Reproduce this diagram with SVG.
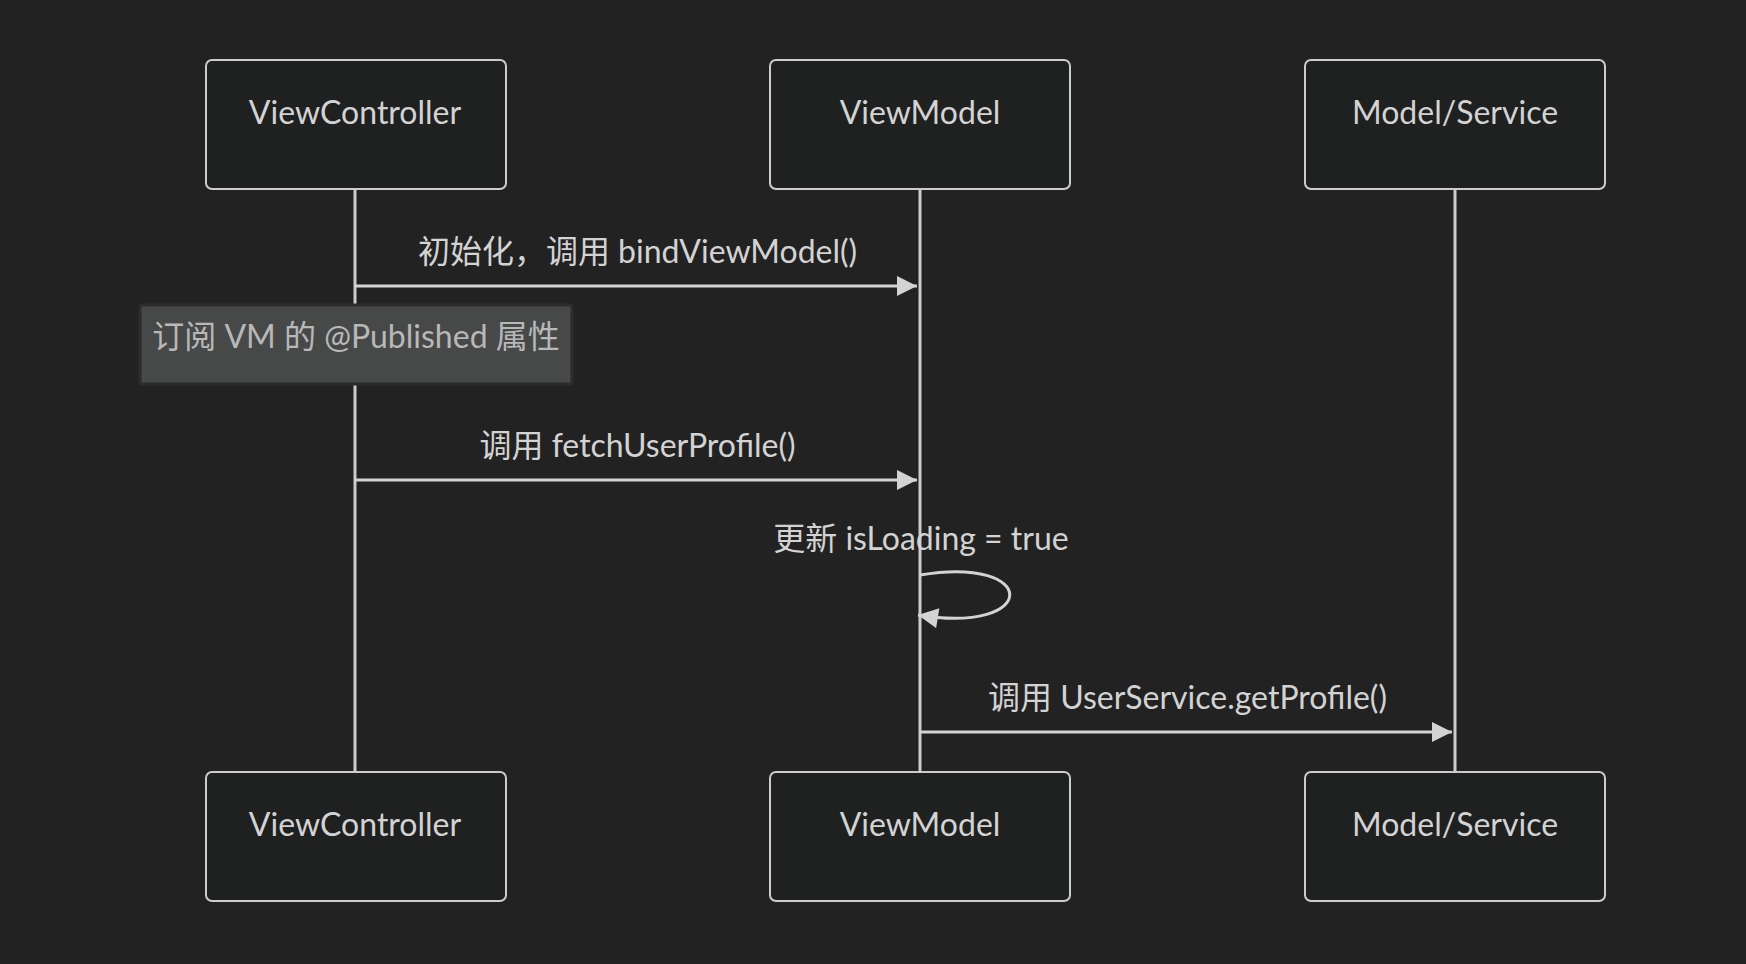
<svg xmlns="http://www.w3.org/2000/svg" width="1746" height="964" viewBox="0 0 1746 964">
<style>
.actor rect{fill:#1f2020;stroke:#cccccc;stroke-width:2}
.actor text{fill:#d3d3d3;font-family:Lato,"Noto Sans CJK SC",sans-serif;font-size:32px;text-anchor:middle}
.life{stroke:#cccccc;stroke-width:3}
.msg{stroke:#d3d3d3;stroke-width:3;fill:none}
.mtext{fill:#d3d3d3;font-family:Lato,"Noto Sans CJK SC",sans-serif;font-size:32px;text-anchor:middle}
.note rect{fill:#474949;stroke:#2c2c2c;stroke-width:3}
.note text{fill:#b8b8b8;font-family:Lato,"Noto Sans CJK SC",sans-serif;font-size:32px;text-anchor:middle}
</style>
<defs>
<marker id="arrow" viewBox="0 0 10 10" refX="10" refY="5" markerUnits="userSpaceOnUse" markerWidth="21" markerHeight="20" orient="auto">
<path d="M0,0 L10,5 L0,10 z" fill="#d3d3d3"/>
</marker>
</defs>
<rect x="0" y="0" width="1746" height="964" fill="#222222"/>
<g id="lifelines">
<line class="life" x1="355" y1="189" x2="355" y2="772"/>
<line class="life" x1="920" y1="189" x2="920" y2="772"/>
<line class="life" x1="1455" y1="189" x2="1455" y2="772"/>
</g>
<g id="actor-viewcontroller-top" class="actor"><rect x="206" y="60" width="300" height="129" rx="6"/><text x="355" y="124">ViewController</text></g>
<g id="actor-viewmodel-top" class="actor"><rect x="770" y="60" width="300" height="129" rx="6"/><text x="920" y="124">ViewModel</text></g>
<g id="actor-modelservice-top" class="actor"><rect x="1305" y="60" width="300" height="129" rx="6"/><text x="1455" y="124">Model/Service</text></g>
<g id="actor-viewcontroller-bottom" class="actor"><rect x="206" y="772" width="300" height="129" rx="6"/><text x="355" y="836">ViewController</text></g>
<g id="actor-viewmodel-bottom" class="actor"><rect x="770" y="772" width="300" height="129" rx="6"/><text x="920" y="836">ViewModel</text></g>
<g id="actor-modelservice-bottom" class="actor"><rect x="1305" y="772" width="300" height="129" rx="6"/><text x="1455" y="836">Model/Service</text></g>
<g id="note-subscribe" class="note"><rect x="140" y="305" width="432" height="79"/><text x="356" y="348">订阅 VM 的 @Published 属性</text></g>
<g id="connectors">
<text class="mtext" x="637.5" y="263">初始化，调用 bindViewModel()</text>
<line class="msg" x1="355" y1="286" x2="917" y2="286" marker-end="url(#arrow)"/>
<text class="mtext" x="637.5" y="457">调用 fetchUserProfile()</text>
<line class="msg" x1="355" y1="480" x2="917" y2="480" marker-end="url(#arrow)"/>
<text class="mtext" x="921" y="550">更新 isLoading = true</text>
<path class="msg" d="M920,575 C1040,555 1040,635 918,615" marker-end="url(#arrow)"/>
<text class="mtext" x="1187.5" y="709">调用 UserService.getProfile()</text>
<line class="msg" x1="920" y1="732" x2="1452" y2="732" marker-end="url(#arrow)"/>
</g>
</svg>
